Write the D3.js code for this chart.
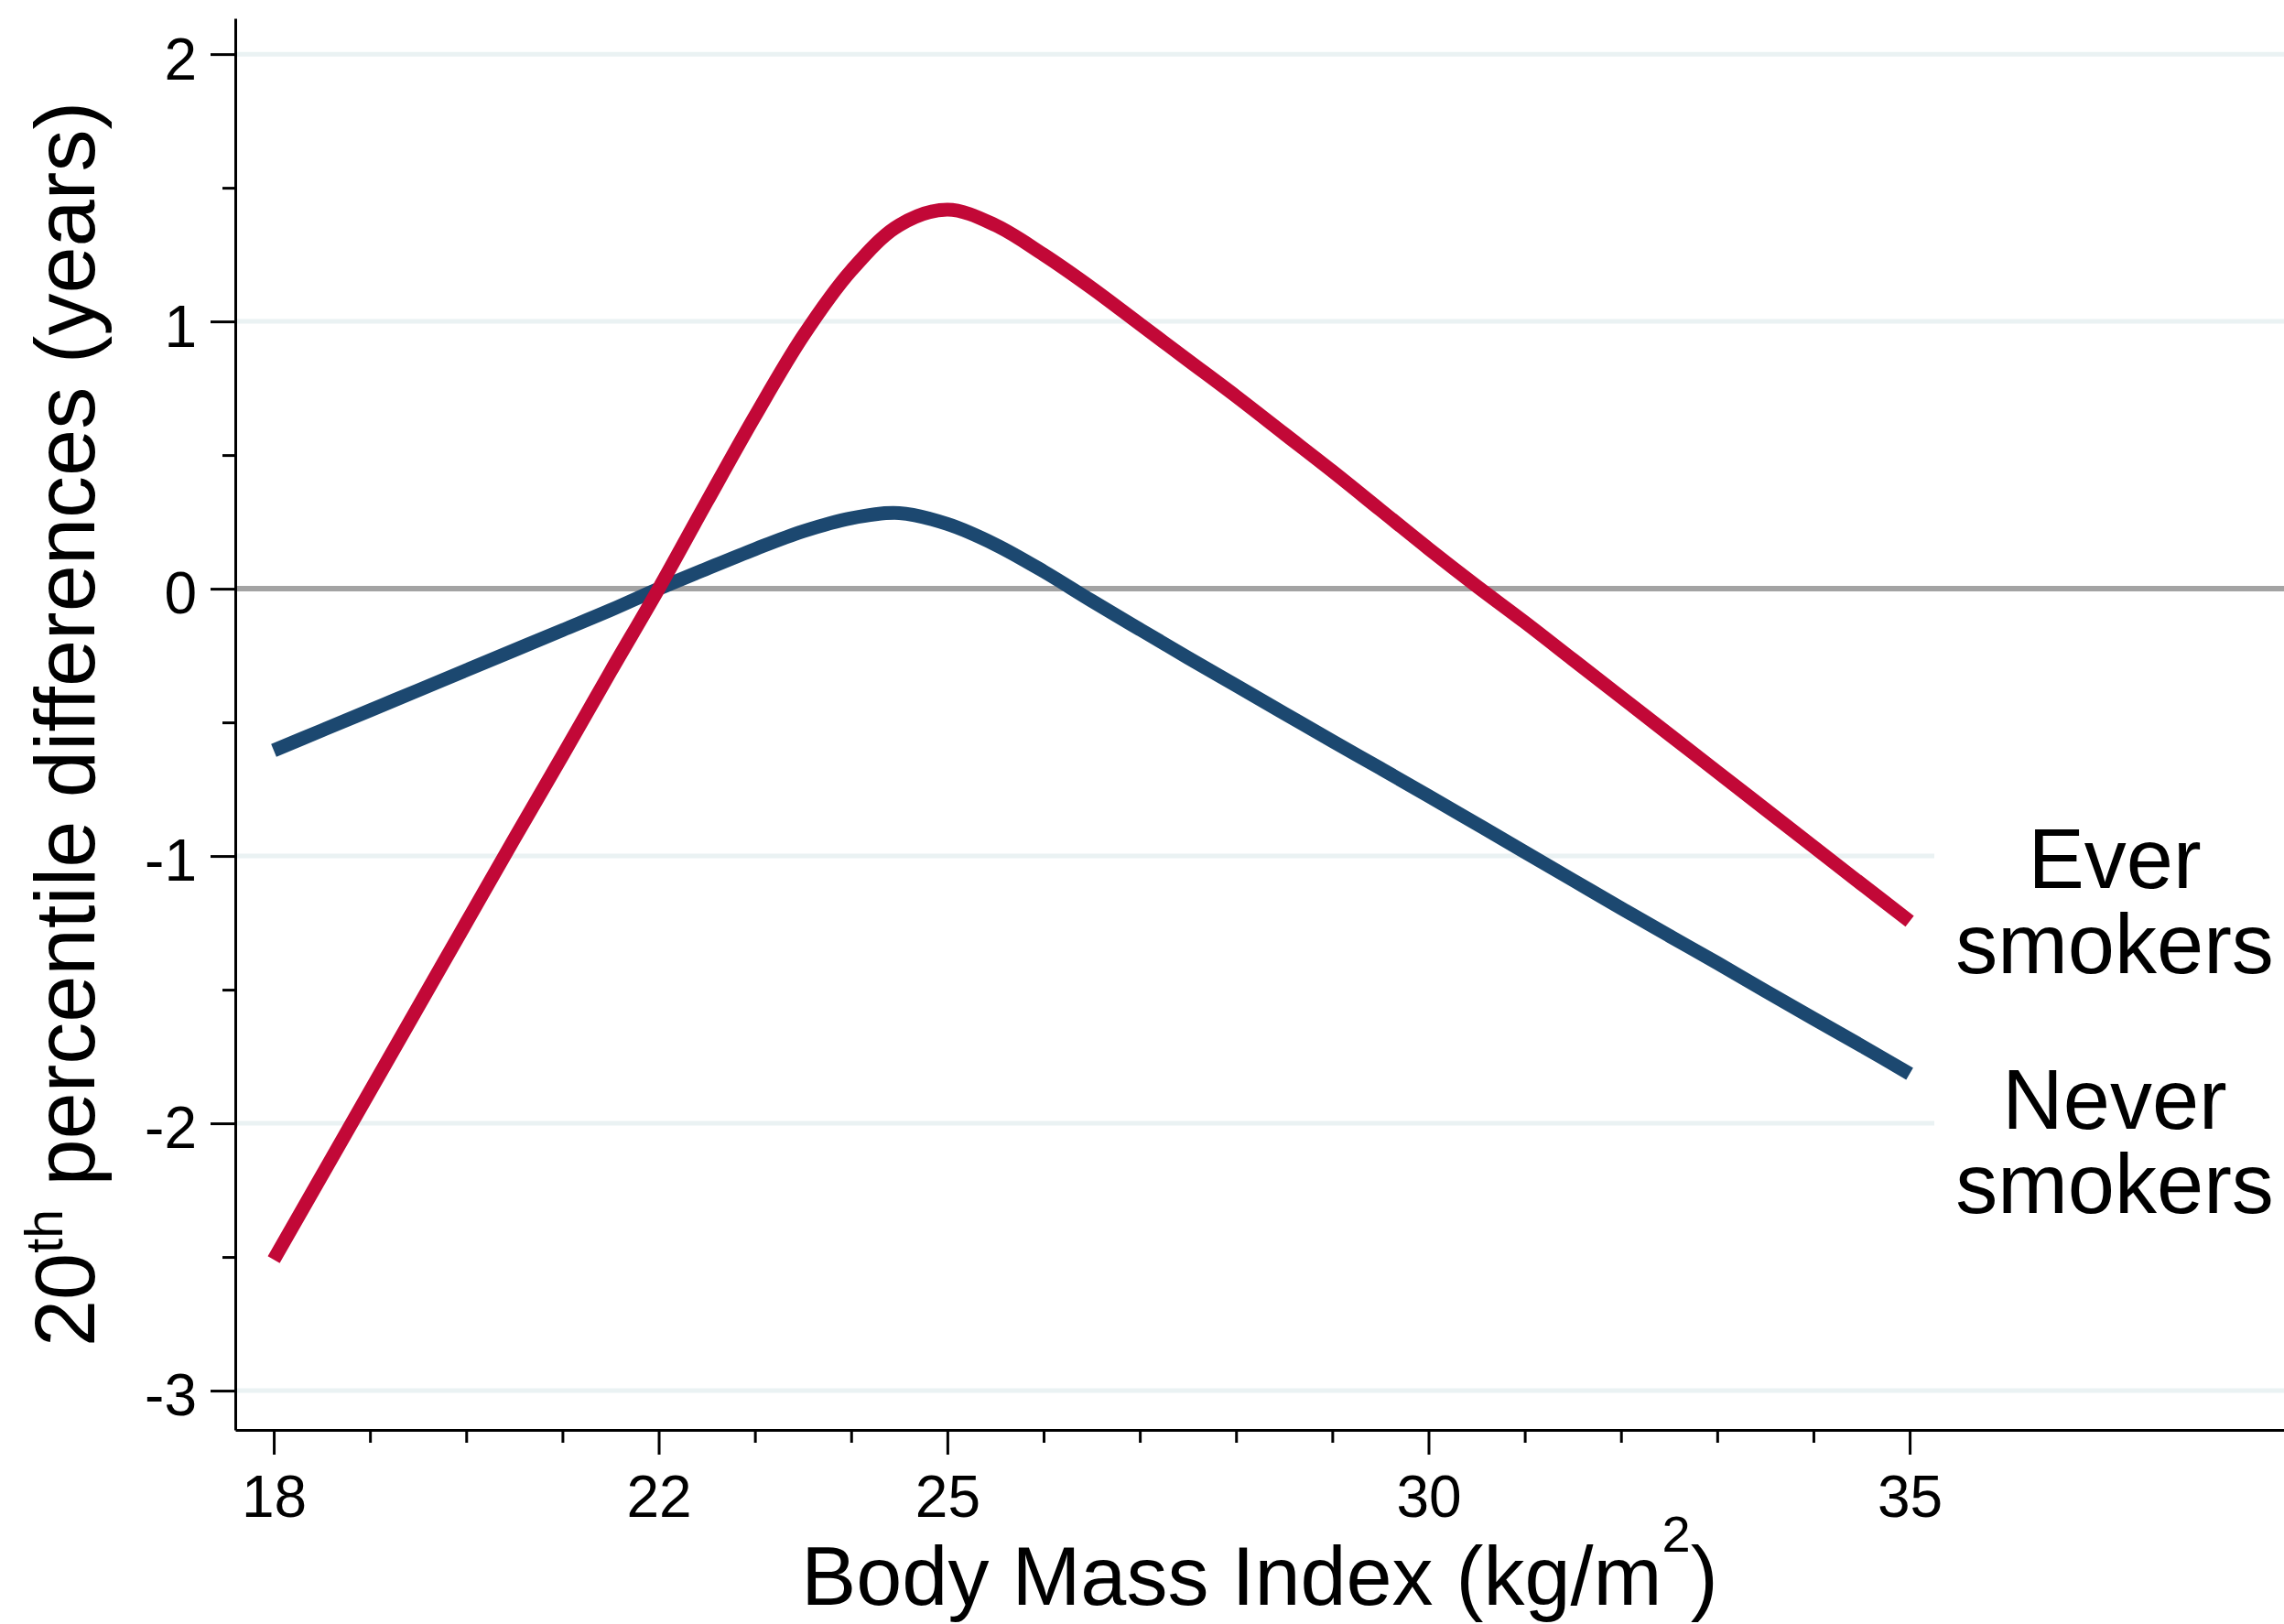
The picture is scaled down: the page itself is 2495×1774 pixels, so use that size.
<!DOCTYPE html>
<html>
<head>
<meta charset="utf-8">
<script src="https://cdn.jsdelivr.net/npm/d3@7"></script>
<style>
    html, body { margin: 0; padding: 0; background: #ffffff; }
    svg { display: block; }
    text { font-family: "Liberation Sans", Arial, Helvetica, sans-serif; fill: #000000; }
</style>
</head>
<body>
<div class="line-chart"></div>
<script>
// BMI vs 20th percentile differences - ever / never smokers

// Data
const bmiValues = [18, 18.5, 19, 19.5, 20, 20.5, 21, 21.5, 22, 22.5, 23, 23.5, 24, 24.5, 25,
    25.5, 26, 26.5, 27, 27.5, 28, 28.5, 29, 29.5, 30, 30.5, 31, 31.5, 32, 32.5, 33, 33.5, 34, 34.5, 35];

const everSmokers = [-2.51, -2.195, -1.88, -1.565, -1.25, -0.935, -0.625, -0.31, 0.0, 0.325, 0.645, 0.945, 1.19, 1.36, 1.418,
    1.36, 1.25, 1.125, 0.99, 0.855, 0.72, 0.58, 0.44, 0.295, 0.15, 0.01, -0.125, -0.265, -0.405, -0.545, -0.685, -0.825, -0.965, -1.105, -1.244];

const neverSmokers = [-0.605, -0.53, -0.455, -0.38, -0.305, -0.23, -0.155, -0.08, 0.0, 0.075, 0.148, 0.215, 0.264, 0.283, 0.242,
    0.165, 0.065, -0.045, -0.152, -0.258, -0.362, -0.466, -0.57, -0.672, -0.775, -0.88, -0.985, -1.09, -1.195, -1.298, -1.40, -1.505, -1.608, -1.71, -1.815];

const xMajorTicks = [18, 22, 25, 30, 35];
const xMinorTicks = [19, 20, 21, 23, 24, 26, 27, 28, 29, 31, 32, 33, 34];
const yMajorTicks = [-3, -2, -1, 0, 1, 2];
const yMinorTicks = [-2.5, -1.5, -0.5, 0.5, 1.5];
const gridValues = [-3, -2, -1, 1, 2];

const seriesNames = ['Ever smokers', 'Never smokers'];

function createLineChart() {
    const container = document.querySelector('.line-chart');
    container.innerHTML = '';

    const width = 2495;
    const height = 1774;

    const svg = d3.select('.line-chart')
        .append('svg')
        .attr('width', width)
        .attr('height', height);

    svg.append('rect')
        .attr('width', width)
        .attr('height', height)
        .attr('fill', '#ffffff');

    // Scales
    const xScale = d3.scaleLinear()
        .domain([17.6, 38.89])
        .range([257, 2495]);

    const yScale = d3.scaleLinear()
        .domain([-3.147, 2.134])
        .range([1562, 20]);

    const plotLeft = xScale.range()[0];
    const plotRight = xScale.range()[1];

    // Grid lines
    svg.append('g')
        .attr('class', 'grid')
        .selectAll('line')
        .data(gridValues)
        .enter()
        .append('line')
        .attr('x1', plotLeft)
        .attr('x2', plotRight)
        .attr('y1', d => yScale(d))
        .attr('y2', d => yScale(d))
        .attr('stroke', '#eaf2f3')
        .attr('stroke-width', 5);

    // Zero line
    svg.append('line')
        .attr('x1', plotLeft)
        .attr('x2', plotRight)
        .attr('y1', yScale(0))
        .attr('y2', yScale(0))
        .attr('stroke', '#a3a3a3')
        .attr('stroke-width', 6);

    // Label area hides grid lines on the right
    svg.append('rect')
        .attr('x', 2113)
        .attr('y', yScale(-0.8))
        .attr('width', width - 2113)
        .attr('height', yScale(-2.4) - yScale(-0.8))
        .attr('fill', '#ffffff');

    // Lines
    const line = d3.line()
        .x(d => xScale(d[0]))
        .y(d => yScale(d[1]))
        .curve(d3.curveCatmullRom.alpha(0.5));

    const series = [
        { name: seriesNames[1], values: neverSmokers, color: '#1c4870' },
        { name: seriesNames[0], values: everSmokers, color: '#c20837' }
    ];

    series.forEach(s => {
        svg.append('path')
            .datum(bmiValues.map((b, i) => [b, s.values[i]]))
            .attr('d', line)
            .attr('fill', 'none')
            .attr('stroke', s.color)
            .attr('stroke-width', 15)
            .attr('stroke-linecap', 'butt')
            .attr('stroke-linejoin', 'round');
    });

    // Y axis
    const yAxis = svg.append('g')
        .attr('transform', `translate(${plotLeft},0)`)
        .call(d3.axisLeft(yScale)
            .tickValues(yMajorTicks)
            .tickSize(27)
            .tickSizeOuter(0)
            .tickPadding(15)
            .tickFormat(d => d < 0 ? '-' + Math.abs(d) : String(d)));

    yAxis.selectAll('text')
        .attr('dy', '0.42em')
        .attr('font-size', '64px');

    svg.append('g')
        .attr('transform', `translate(${plotLeft},0)`)
        .call(d3.axisLeft(yScale)
            .tickValues(yMinorTicks)
            .tickSize(14)
            .tickSizeOuter(0)
            .tickFormat(''))
        .select('.domain').remove();

    // X axis
    const xAxis = svg.append('g')
        .attr('transform', `translate(0,${yScale.range()[0]})`)
        .call(d3.axisBottom(xScale)
            .tickValues(xMajorTicks)
            .tickSize(27)
            .tickSizeOuter(0)
            .tickPadding(23)
            .tickFormat(d3.format('d')));

    xAxis.selectAll('text')
        .attr('font-size', '64px');

    svg.append('g')
        .attr('transform', `translate(0,${yScale.range()[0]})`)
        .call(d3.axisBottom(xScale)
            .tickValues(xMinorTicks)
            .tickSize(14)
            .tickSizeOuter(0)
            .tickFormat(''))
        .select('.domain').remove();

    // Axis style
    svg.selectAll('.domain')
        .attr('stroke', '#000000')
        .attr('stroke-width', 3);

    svg.selectAll('.tick line')
        .attr('stroke', '#000000')
        .attr('stroke-width', 3);

    svg.selectAll('.tick text')
        .attr('font-family', '"Liberation Sans", Arial, sans-serif')
        .attr('fill', '#000000');

    // X axis title
    const xTitle = svg.append('text')
        .attr('x', (plotLeft + plotRight) / 2)
        .attr('y', 1753)
        .attr('text-anchor', 'middle')
        .attr('font-size', '90px');
    xTitle.append('tspan').text('Body Mass Index (kg/m');
    xTitle.append('tspan').attr('dy', -58).attr('font-size', '56px').text('2');
    xTitle.append('tspan').attr('dy', 58).text(')');

    // Y axis title
    const yTitle = svg.append('text')
        .attr('transform', `translate(103,${(yScale.range()[0] + yScale.range()[1]) / 2}) rotate(-90)`)
        .attr('text-anchor', 'middle')
        .attr('font-size', '92px');
    yTitle.append('tspan').text('20');
    yTitle.append('tspan').attr('dy', -35).attr('font-size', '57px').text('th');
    yTitle.append('tspan').attr('dy', 35).text(' percentile differences (years)');

    // Series labels
    const labelLines = [
        { text: 'Ever', y: 970 },
        { text: 'smokers', y: 1063 },
        { text: 'Never', y: 1233 },
        { text: 'smokers', y: 1325 }
    ];

    svg.append('g')
        .selectAll('text')
        .data(labelLines)
        .enter()
        .append('text')
        .attr('x', 2310)
        .attr('y', d => d.y)
        .attr('text-anchor', 'middle')
        .attr('font-size', '92px')
        .text(d => d.text);
}

createLineChart();
</script>
</body>
</html>
